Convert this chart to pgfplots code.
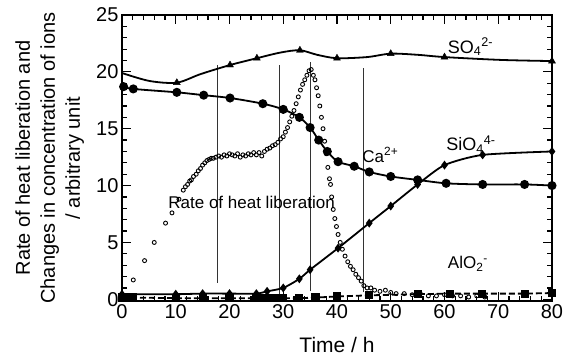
\documentclass[border=0pt]{standalone}
\usepackage{fontspec}
\setmainfont{Liberation Sans}
\usepackage{pgfplots}
\pgfplotsset{compat=1.18}
\begin{document}
\begin{tikzpicture}
\begin{axis}[
 scale only axis, width=430pt, height=286pt,
 xmin=0, xmax=80, ymin=-0.15, ymax=25,
 xtick={0,10,...,80}, ytick={0,5,...,25},
 minor x tick num=4, minor y tick num=4,
 tick align=inside, major tick length=9pt, minor tick length=5pt,
 xtick pos=both, ytick pos=both,
 axis line style={line width=1.6pt},
 every tick/.style={black, line width=1.2pt},
 ticklabel style={font=\fontsize{20}{20}\selectfont},
 /pgf/number format/assume math mode=true,
 xlabel={Time / h},
 xlabel style={font=\fontsize{21}{21}\selectfont, at={(axis description cs:0.5,-0.1538)}, anchor=center},
 ylabel={\begin{tabular}{@{}c@{}}Rate of heat liberation and\\Changes in concentration of ions\\/ arbitrary unit\end{tabular}},
 ylabel style={font=\fontsize{20}{25}\selectfont, at={(axis description cs:-0.1675,0.5)}, anchor=center, inner sep=0pt},
 clip=false,
]
% vertical guide lines
\addplot[black!80, line width=0.8pt] coordinates {(17.7,1.45) (17.7,20.6)};
\addplot[black!80, line width=0.8pt] coordinates {(29.2,0) (29.2,20.6)};
\addplot[black!80, line width=0.8pt] coordinates {(35.1,0.7) (35.1,20.9)};
\addplot[black!80, line width=0.8pt] coordinates {(45.0,0.6) (45.0,20.3)};

% SO4 line
\addplot[black, line width=1.8pt, smooth, tension=0.5] coordinates {
(0,19.9) (5.1,19.2) (10.2,19.05) (14.6,19.8) (20.1,20.6) (25.1,21.2) (29.5,21.7) (33.1,21.9) (36.3,21.5) (40,21.2) (45.6,21.3) (50,21.6) (55,21.5) (60,21.3) (70.5,21.05) (80,20.95)};
\addplot[only marks, mark=triangle*, mark size=4pt, black] coordinates {
(10.2,19.05) (20.1,20.6) (25.1,21.2) (33.1,21.9) (40,21.2) (50,21.6) (60,21.3) (80,20.95)};

% Ca line
\addplot[black, line width=1.8pt, smooth, tension=0.5, mark=*, mark size=3.6pt] coordinates {
(0.3,18.7) (2.1,18.5) (10.2,18.2) (15.2,17.95) (20.1,17.7) (26.2,17.2) (30,16.7) (33,16.0) (35,15.1) (36.6,14.0) (38.2,13.0) (40.2,12.1) (43.2,11.7) (46,11.2) (50,10.8) (55,10.5) (60.3,10.2) (67.1,10.1) (74.9,10.1) (80,10.0)};

% SiO4 line
\addplot[black, line width=1.8pt, smooth, tension=0.4, mark=diamond*, mark size=3pt] coordinates {
(0,0.45) (10,0.45) (15,0.5) (20,0.5) (25,0.5) (27,0.7) (30,1.0) (33,1.8) (35,2.6) (40.2,4.5) (46,6.7) (50,8.2) (55,10.1) (60,11.8) (67.1,12.7) (80,13.0)};

% AlO2 line
\addplot[black, line width=1.8pt, dash pattern=on 6pt off 3pt, mark=square*, mark size=3.2pt, mark options={solid}] coordinates {
(0,0.15) (0.7,0.15) (1.4,0.15) (2.1,0.15) (10,0.1) (15,0.1) (20,0.1) (25,0.1) (26,0.1) (27,0.1) (28,0.1) (29,0.1) (30,0.1) (33,0.1) (36,0.15) (40,0.25) (46,0.35) (55,0.45) (61,0.5) (67,0.5) (75,0.5) (80,0.55)};

% Rate of heat liberation
\addplot[only marks, mark=o, mark size=2pt, black, mark options={line width=0.9pt}] coordinates {
(2.1,1.7) (4.2,3.4) (6.0,5.0) (8.1,6.7) (9.3,7.6) (10.6,8.8) (11.4,9.6) (11.8,9.9) (12.2,10.1) (12.6,10.4) (12.9,10.5) (13.3,10.8) (13.8,11.0) (14.2,11.3) (14.6,11.5) (15.0,11.8) (15.4,12.0) (15.8,12.2) (16.2,12.3) (16.6,12.4) (17.0,12.4) (17.5,12.5) (18.0,12.6) (18.5,12.5) (19.0,12.7) (19.5,12.6) (20.0,12.8) (20.5,12.7) (21.0,12.6) (21.5,12.8) (22.0,12.5) (22.5,12.7) (23.0,12.6) (23.5,12.8) (24.0,12.7) (24.5,12.9) (25.0,12.7) (25.5,12.9) (26.0,12.6) (26.5,13.0) (27.0,13.2) (27.5,13.3) (28.0,13.5) (28.5,13.6) (29.0,13.8) (29.5,14.1) (30.0,14.3) (30.4,14.7) (30.8,15.1) (31.2,15.6) (31.6,16.1) (32.0,16.6) (32.4,17.2) (32.8,17.8) (33.2,18.4) (33.6,18.9) (34.0,19.3) (34.4,19.7) (34.8,20.1) (35.2,20.2) (35.6,19.7) (35.9,19.3) (36.2,18.6) (36.5,17.9) (36.8,17.0) (37.1,16.0) (37.4,15.0) (37.7,13.9) (38.0,12.8) (38.3,11.6) (38.6,10.6) (38.8,10.1) (39.0,9.0) (39.3,7.9) (39.6,7.1) (39.9,6.4) (40.2,5.7) (40.6,5.0) (41.0,4.4) (41.5,3.8) (42.0,3.3) (42.5,2.9) (43.0,2.6) (43.5,2.2) (44.0,1.9) (44.5,1.6) (45.0,1.2) (45.6,1.0) (46.3,1.0) (47.0,0.8) (48.0,0.7) (49.0,0.8) (50.0,0.6) (51.0,0.5) (52.5,0.5) (54.0,0.4) (55.5,0.5) (57.0,0.3) (58.5,0.3) (60.0,0.4) (61.5,0.3) (63.0,0.3) (64.5,0.2) (66.0,0.3) (67.5,0.2)};

% labels
\node[anchor=west, font=\fontsize{18}{18}\selectfont, inner sep=0pt] at (axis cs:60.6,22.2) {SO\textsubscript{4}\textsuperscript{2-}};
\node[anchor=west, font=\fontsize{18}{18}\selectfont, inner sep=0pt] at (axis cs:60.3,13.6) {SiO\textsubscript{4}\textsuperscript{4-}};
\node[anchor=west, font=\fontsize{17}{17}\selectfont, inner sep=0pt] at (axis cs:44.7,12.7) {Ca\textsuperscript{2+}};
\node[anchor=west, font=\fontsize{17}{17}\selectfont, inner sep=0pt] at (axis cs:8.6,8.5) {Rate of heat liberation};
\node[anchor=west, font=\fontsize{17}{17}\selectfont, inner sep=0pt] at (axis cs:60.6,3.1) {AlO\textsubscript{2}\textsuperscript{-}};
\end{axis}
\pgfresetboundingbox
\path (current axis.south west) ++(-122pt,-59pt) rectangle ++(566pt,360pt);
\end{tikzpicture}
\end{document}
